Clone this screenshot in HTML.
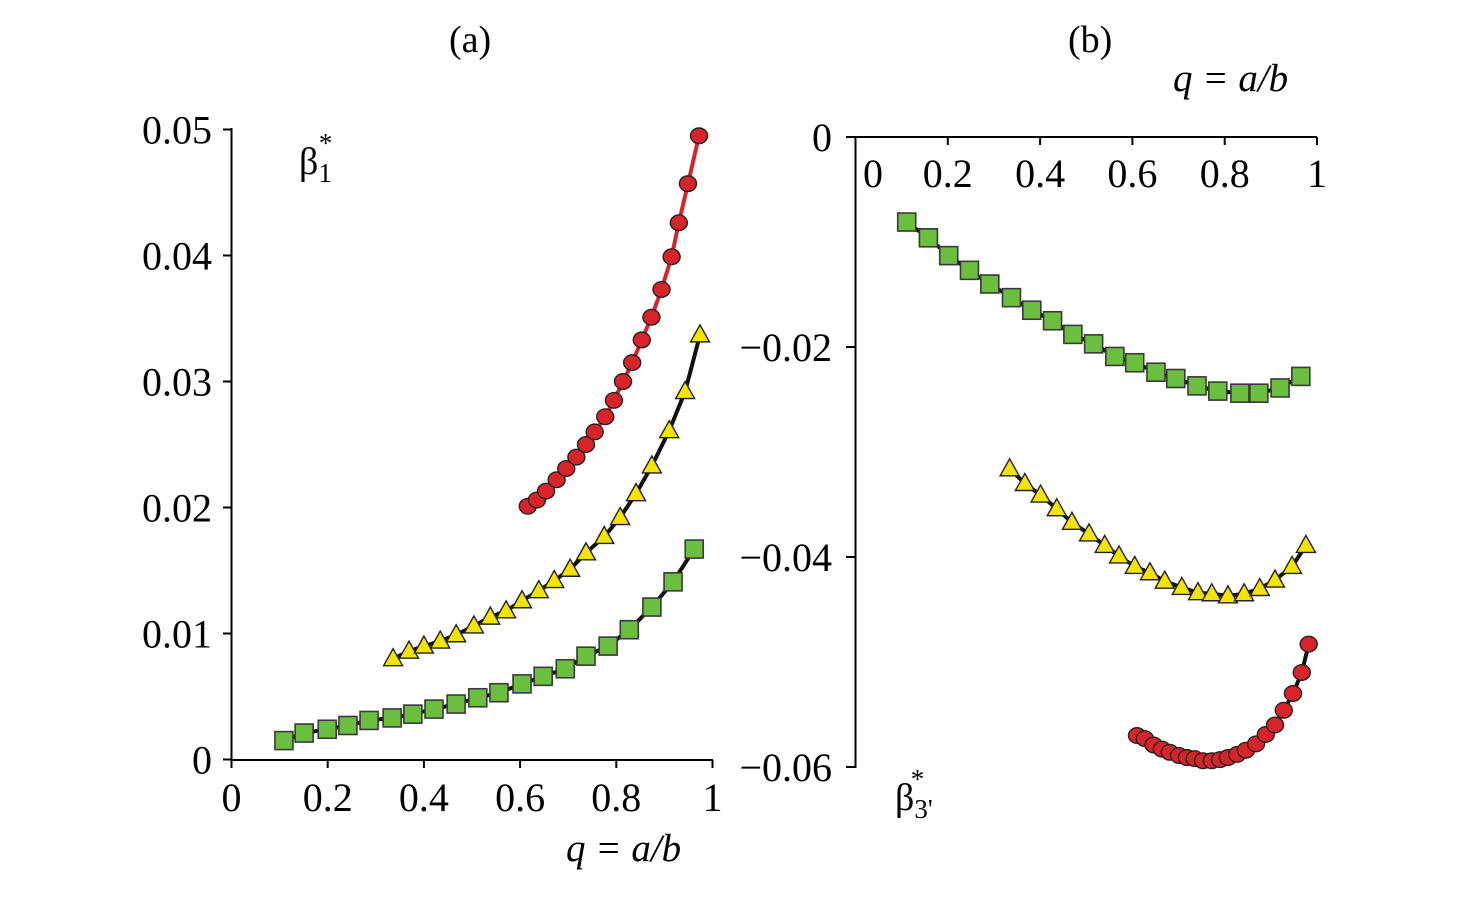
<!DOCTYPE html>
<html><head><meta charset="utf-8"><style>
html,body{margin:0;padding:0;background:#fff;}
svg{display:block;font-family:"Liberation Serif",serif;}
</style></head><body>
<svg id="chart" width="1465" height="898" viewBox="0 0 1465 898"></svg>
<script>
// Panel (a) data
const aSqX=[0.109,0.151,0.199,0.242,0.286,0.334,0.377,0.421,0.467,0.512,0.556,0.604,0.648,0.694,0.737,0.783,0.827,0.874,0.918,0.962];
const aSqY=[0.0015,0.0021,0.0024,0.0027,0.0031,0.0033,0.0036,0.0040,0.0044,0.0049,0.0053,0.0060,0.0066,0.0072,0.0082,0.0090,0.0103,0.0121,0.0141,0.0167];
const aTrX=[0.336,0.369,0.400,0.434,0.467,0.504,0.538,0.571,0.604,0.639,0.671,0.704,0.737,0.775,0.808,0.841,0.874,0.910,0.943,0.974];
const aTrY=[0.0080,0.0086,0.0090,0.0094,0.0099,0.0106,0.0113,0.0118,0.0126,0.0134,0.0142,0.0151,0.0164,0.0177,0.0192,0.0211,0.0233,0.0261,0.0292,0.0337];
const aCiX=[0.616,0.635,0.654,0.676,0.696,0.717,0.737,0.755,0.777,0.795,0.814,0.833,0.853,0.873,0.894,0.915,0.930,0.949,0.972];
const aCiY=[0.0201,0.0206,0.0213,0.0222,0.0231,0.0240,0.0250,0.0260,0.0272,0.0285,0.0300,0.0315,0.0333,0.0351,0.0373,0.0399,0.0426,0.0457,0.0495];
const aXTicks=[0,0.2,0.4,0.6,0.8,1];
const aXTickLabels=["0","0.2","0.4","0.6","0.8","1"];
const aYTicks=[0,0.01,0.02,0.03,0.04,0.05];
const aYTickLabels=["0","0.01","0.02","0.03","0.04","0.05"];
// Panel (b) data
const bSqX=[0.111,0.158,0.202,0.247,0.291,0.338,0.382,0.427,0.471,0.516,0.562,0.605,0.651,0.694,0.740,0.785,0.833,0.874,0.920,0.965];
const bSqY=[-0.0081,-0.0096,-0.0113,-0.0127,-0.0140,-0.0153,-0.0165,-0.0175,-0.0188,-0.0197,-0.0209,-0.0215,-0.0224,-0.0230,-0.0237,-0.0242,-0.0244,-0.0244,-0.0239,-0.0228];
const bTrX=[0.334,0.367,0.401,0.436,0.469,0.506,0.540,0.571,0.605,0.638,0.670,0.707,0.742,0.772,0.807,0.842,0.876,0.909,0.946,0.976];
const bTrY=[-0.0316,-0.0330,-0.0341,-0.0354,-0.0367,-0.0378,-0.0389,-0.0399,-0.0409,-0.0415,-0.0423,-0.0429,-0.0434,-0.0435,-0.0437,-0.0435,-0.0430,-0.0422,-0.0409,-0.0389];
const bCiX=[0.610,0.627,0.646,0.664,0.681,0.701,0.718,0.735,0.753,0.772,0.790,0.807,0.827,0.846,0.868,0.889,0.909,0.928,0.948,0.967,0.982];
const bCiY=[-0.0570,-0.0573,-0.0579,-0.0583,-0.0586,-0.0589,-0.0591,-0.0592,-0.0594,-0.0594,-0.0593,-0.0591,-0.0588,-0.0584,-0.0578,-0.0569,-0.0560,-0.0546,-0.0530,-0.0510,-0.0483];
const bXTicks=[0.2,0.4,0.6,0.8,1];
const bXTickLabels=["0.2","0.4","0.6","0.8","1"];
const bYTicks=[0,-0.02,-0.04,-0.06];
const bYTickLabels=["0","\u22120.02","\u22120.04","\u22120.06"];

const NS="http://www.w3.org/2000/svg";
const svg=document.getElementById('chart');
function mk(tag,attrs,parent,text){const e=document.createElementNS(NS,tag);for(const k in attrs)e.setAttribute(k,attrs[k]);if(text!==undefined)e.textContent=text;(parent||svg).appendChild(e);return e;}

// scales
const ax=v=>231.5+v*481, ay=v=>759.5-v*12600;
const bx=v=>855.5+v*461.5, by=v=>137-v*10500;

function linePath(xs,ys,sx,sy){return xs.map((x,i)=>(i?'L':'M')+sx(x).toFixed(1)+','+sy(ys[i]).toFixed(1)).join(' ');}
function series(xs,ys,sx,sy,kind,lineColor,name){
  const g=mk('g',{});
  
  
  const p=mk('path',{d:linePath(xs,ys,sx,sy),fill:'none',stroke:lineColor,'stroke-width':4},g);
  
  
  xs.forEach((x,i)=>{
    const cx=sx(x),cy=sy(ys[i]);let m;
    if(kind==='sq'){m=mk('rect',{x:cx-9,y:cy-9,width:18,height:18,fill:'#6abf3e',stroke:'#3a3a3a','stroke-width':1.6},g);}
    else if(kind==='tr'){m=mk('polygon',{points:`${cx},${cy-10} ${cx+9.5},${cy+7} ${cx-9.5},${cy+7}`,fill:'#f5e400',stroke:'#222','stroke-width':1.4},g);}
    else {m=mk('ellipse',{cx:cx,cy:cy,rx:8.5,ry:7.8,fill:'#d8232a',stroke:'#222','stroke-width':1.4},g);}
    
    
  });
}

let e;
e=mk('line',{x1:231.5,y1:128,x2:231.5,y2:760,stroke:'#000','stroke-width':2});

e=mk('line',{x1:231.5,y1:760,x2:713,y2:760,stroke:'#000','stroke-width':2});

aXTicks.forEach((v,i)=>{
  e=mk('line',{x1:ax(v),y1:760,x2:ax(v),y2:768,stroke:'#000','stroke-width':2});
  
  e=mk('text',{x:ax(v),y:811,'font-size':40,'text-anchor':'middle'},svg,aXTickLabels[i]);
  
});
aYTicks.forEach((v,i)=>{
  e=mk('line',{x1:223,y1:ay(v),x2:231.5,y2:ay(v),stroke:'#000','stroke-width':2});
  
  e=mk('text',{x:212,y:ay(v)+14,'font-size':40,'text-anchor':'end'},svg,aYTickLabels[i]);
  
});
series(aSqX,aSqY,ax,ay,'sq','#111','a-series-square');
series(aTrX,aTrY,ax,ay,'tr','#111','a-series-triangle');
series(aCiX,aCiY,ax,ay,'ci','#d8232a','a-series-circle');

e=mk('line',{x1:855.5,y1:136,x2:855.5,y2:768,stroke:'#000','stroke-width':2});

e=mk('line',{x1:846,y1:137,x2:1317,y2:137,stroke:'#000','stroke-width':2});

bXTicks.forEach((v,i)=>{
  e=mk('line',{x1:bx(v),y1:137,x2:bx(v),y2:145,stroke:'#000','stroke-width':2});
  
  e=mk('text',{x:bx(v),y:187,'font-size':40,'text-anchor':'middle'},svg,bXTickLabels[i]);
  
});
e=mk('text',{x:873,y:187,'font-size':40,'text-anchor':'middle'},svg,'0');

bYTicks.forEach((v,i)=>{
  e=mk('line',{x1:846,y1:by(v),x2:855.5,y2:by(v),stroke:'#000','stroke-width':2});
  
  e=mk('text',{x:832,y:by(v)+14,'font-size':40,'text-anchor':'end'},svg,bYTickLabels[i]);
  
});
series(bSqX,bSqY,bx,by,'sq','#111','b-series-square');
series(bTrX,bTrY,bx,by,'tr','#111','b-series-triangle');
series(bCiX,bCiY,bx,by,'ci','#111','b-series-circle');
</script>
<div style="position:absolute;left:0;top:0;width:1465px;height:898px;pointer-events:none;font-family:'Liberation Serif',serif;color:#000;">
  <div style="position:absolute;left:449px;top:18px;font-size:38px;">(a)</div>
  <div style="position:absolute;left:1068px;top:18px;font-size:38px;">(b)</div>
  <div style="position:absolute;left:566px;top:826px;font-size:39px;font-style:italic;">q = a/b</div>
  <div style="position:absolute;left:1173px;top:56px;font-size:39px;font-style:italic;">q = a/b</div>
  <div style="position:absolute;left:299px;top:140px;font-size:38px;">β<span style="font-size:27px;position:relative;top:8px;">1</span><span style="font-size:27px;position:relative;top:-22px;left:-13px;">*</span></div>
  <div style="position:absolute;left:895px;top:776px;font-size:38px;">β<span style="font-size:27px;position:relative;top:8px;">3'</span><span style="font-size:27px;position:relative;top:-22px;left:-22px;">*</span></div>
</div>
</body></html>
